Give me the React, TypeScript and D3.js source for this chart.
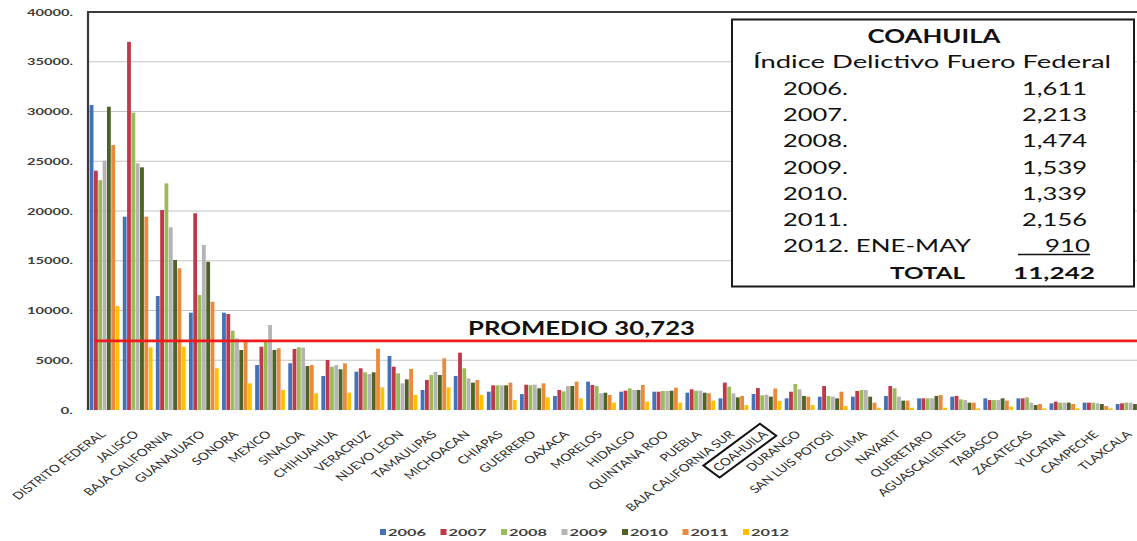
import React, { useEffect, useRef } from 'react';
import * as d3 from 'd3';

// states, left to right
const states = [
  'DISTRITO FEDERAL', 'JALISCO', 'BAJA CALIFORNIA', 'GUANAJUATO', 'SONORA', 'MEXICO',
  'SINALOA', 'CHIHUAHUA', 'VERACRUZ', 'NUEVO LEON', 'TAMAULIPAS', 'MICHOACAN',
  'CHIAPAS', 'GUERRERO', 'OAXACA', 'MORELOS', 'HIDALGO', 'QUINTANA ROO', 'PUEBLA',
  'BAJA CALIFORNIA SUR', 'COAHUILA', 'DURANGO', 'SAN LUIS POTOSI', 'COLIMA', 'NAYARIT',
  'QUERETARO', 'AGUASCALIENTES', 'TABASCO', 'ZACATECAS', 'YUCATAN', 'CAMPECHE', 'TLAXCALA'
];
const highlighted = 'COAHUILA';

const years = ['2006', '2007', '2008', '2009', '2010', '2011', '2012'];

const v2006 = [30650, 19430, 11460, 9780, 9780, 4520, 4700, 3420, 3850, 5430, 2010, 3420, 1840, 1600, 1410, 2850, 1840, 1840, 1740, 1170, 1611, 1170, 1340, 1340, 1410, 1170, 1340, 1170, 1170, 670, 740, 600];
const v2007 = [24050, 37000, 20100, 19770, 9650, 6360, 6130, 5030, 4190, 4350, 3020, 5760, 2480, 2540, 2010, 2510, 1940, 1840, 2080, 2750, 2213, 1840, 2410, 1910, 2410, 1170, 1410, 1000, 1170, 840, 740, 670];
const v2008 = [23100, 29880, 22780, 11560, 7970, 7000, 6300, 4350, 3790, 3690, 3520, 4190, 2480, 2500, 1880, 2410, 2180, 1910, 1940, 2350, 1474, 2610, 1410, 2010, 2180, 1170, 1070, 1000, 1270, 740, 740, 740];
const v2009 = [25050, 24790, 18360, 16580, 7200, 8540, 6270, 4520, 3620, 2680, 3820, 3180, 2480, 2540, 2410, 1680, 2010, 1910, 1940, 1680, 1539, 2080, 1340, 2010, 1340, 1170, 1000, 1000, 740, 740, 670, 740];
const v2010 = [30480, 24390, 15080, 14900, 6030, 6030, 4420, 4090, 3790, 3080, 3520, 2750, 2480, 2180, 2410, 1740, 2010, 1940, 1740, 1270, 1339, 1410, 1170, 1340, 940, 1410, 740, 1170, 500, 740, 600, 600];
const v2011 = [26630, 19430, 14240, 10880, 6860, 6200, 4520, 4690, 6160, 4120, 5190, 3020, 2750, 2680, 2850, 1510, 2510, 2240, 1680, 1410, 2156, 1340, 1840, 740, 940, 1510, 740, 940, 600, 600, 400, 600];
const v2012 = [10450, 6300, 6360, 4190, 2680, 2010, 1680, 1740, 2280, 1510, 2280, 1510, 1000, 1270, 1170, 740, 840, 740, 940, 500, 910, 500, 400, 230, 230, 230, 170, 340, 170, 170, 170, 200];
const series = [v2006, v2007, v2008, v2009, v2010, v2011, v2012];

const colors = ['#4472b8', '#c0394b', '#9bbb59', '#b4b4b4', '#4f6228', '#ec8a3c', '#ffc000'];

const yTicks = [0, 5000, 10000, 15000, 20000, 25000, 30000, 35000, 40000];

const promedio = 6950;
const promedioLabel = 'PROMEDIO 30,723';

const boxTitle = 'COAHUILA';
const boxSubtitle = 'Índice Delictivo Fuero Federal';
const boxYears = ['2006.', '2007.', '2008.', '2009.', '2010.', '2011.', '2012. ENE-MAY'];
const boxValues = ['1,611', '2,213', '1,474', '1,539', '1,339', '2,156', '910'];
const boxTotalLabel = 'TOTAL';
const boxTotal = '11,242';

const W = 1137;
const H = 541;
const FONT = 'Lato, "Open Sans", sans-serif';
const STRETCH = 1.35; // the picture is widened horizontally

const App: React.FC = () => {
  const svgRef = useRef<SVGSVGElement>(null);

  useEffect(() => {
    if (!svgRef.current) return;
    const svg = d3.select(svgRef.current);
    svg.selectAll('*').remove();

    const left = 88, top = 12, bottom = 410;
    const right = left + states.length * 33.1;

    const x0 = d3.scaleBand<string>().domain(states).range([left, right])
      .paddingInner(0.1).paddingOuter(0.05);
    const x1 = d3.scaleBand<string>().domain(years).range([0, x0.bandwidth()])
      .paddingInner(0.12);
    const y = d3.scaleLinear().domain([0, 40000]).range([bottom, top]);

    svg.append('rect').attr('width', W).attr('height', H).attr('fill', '#fff');

    // gridlines
    svg.append('g').selectAll('line')
      .data(yTicks.filter(t => t > 0 && t < 40000))
      .enter().append('line')
      .attr('x1', left).attr('x2', W)
      .attr('y1', d => y(d)).attr('y2', d => y(d))
      .attr('stroke', '#c4c4c4').attr('stroke-width', 1.2);

    // bars
    const groups = svg.append('g').selectAll('g')
      .data(states).enter().append('g')
      .attr('transform', d => `translate(${x0(d)},0)`);
    groups.selectAll('rect')
      .data((_, i) => series.map((s, k) => ({ year: years[k], value: s[i], k })))
      .enter().append('rect')
      .attr('x', d => x1(d.year) as number)
      .attr('width', x1.bandwidth())
      .attr('y', d => y(d.value))
      .attr('height', d => bottom - y(d.value))
      .attr('fill', d => colors[d.k]);

    // frame
    svg.append('line').attr('x1', left).attr('x2', W).attr('y1', top).attr('y2', top)
      .attr('stroke', '#3a3a3a').attr('stroke-width', 2.2);
    svg.append('line').attr('x1', left).attr('x2', left).attr('y1', top - 1).attr('y2', bottom)
      .attr('stroke', '#3a3a3a').attr('stroke-width', 2.2);

    // y tick labels
    svg.append('g').selectAll('text')
      .data(yTicks).enter().append('text')
      .attr('x', 73).attr('y', d => y(d))
      .attr('dy', '0.35em')
      .attr('text-anchor', 'end')
      .attr('font-family', FONT).attr('font-weight', 'bold').attr('font-size', 10)
      .attr('fill', '#3c3c3c')
      .attr('textLength', d => String(d).length * 8.4 + 4)
      .attr('lengthAdjust', 'spacingAndGlyphs')
      .text(d => `${d}.`);

    // average line
    svg.append('line')
      .attr('x1', 94).attr('x2', W)
      .attr('y1', y(promedio)).attr('y2', y(promedio))
      .attr('stroke', '#f01c1c').attr('stroke-width', 2.6);
    svg.append('text')
      .attr('x', 468).attr('y', 335)
      .attr('font-family', FONT).attr('font-weight', 'bold').attr('font-size', 18)
      .attr('textLength', 227).attr('lengthAdjust', 'spacingAndGlyphs')
      .attr('fill', '#111')
      .text(promedioLabel);

    // category labels, rotated
    const labels = svg.append('g').selectAll('g')
      .data(states).enter().append('g')
      .attr('transform', d => {
        const cx = (x0(d) as number) + x0.bandwidth() / 2;
        return `translate(${cx + 2},${435}) scale(${STRETCH},1) rotate(-45)`;
      });
    labels.append('text')
      .attr('text-anchor', 'end')
      .attr('font-family', FONT).attr('font-size', 10.3)
      .attr('fill', '#2a2a2a')
      .text(d => d);
    labels.filter(d => d === highlighted).each(function () {
      const g = d3.select(this);
      const w = (g.select('text').node() as SVGTextElement).getComputedTextLength();
      g.append('rect')
        .attr('x', -w - 3.5).attr('y', -12.5)
        .attr('width', w + 7).attr('height', 17)
        .attr('fill', 'none').attr('stroke', '#111').attr('stroke-width', 2)
        .attr('vector-effect', 'non-scaling-stroke');
    });

    // legend
    const legend = svg.append('g').selectAll('g')
      .data(years).enter().append('g')
      .attr('transform', (_, i) => `translate(${380 + i * 60.5},0)`);
    legend.append('rect')
      .attr('x', 0).attr('y', 529).attr('width', 6).attr('height', 6)
      .attr('fill', (_, i) => colors[i]);
    legend.append('text')
      .attr('x', 8).attr('y', 536)
      .attr('font-family', FONT).attr('font-weight', 'bold').attr('font-size', 10)
      .attr('fill', '#404040')
      .attr('textLength', 38).attr('lengthAdjust', 'spacingAndGlyphs')
      .text(d => d);

    // Coahuila box
    const box = svg.append('g');
    box.append('rect')
      .attr('x', 732).attr('y', 19.5).attr('width', 402).attr('height', 267)
      .attr('fill', '#fff').attr('stroke', '#1a1a1a').attr('stroke-width', 2);
    const txt = (x: number, yy: number, s: string, len: number, opts: { anchor?: string; bold?: boolean; size?: number } = {}) =>
      box.append('text')
        .attr('x', x).attr('y', yy)
        .attr('text-anchor', opts.anchor || 'start')
        .attr('font-family', FONT)
        .attr('font-weight', opts.bold ? 'bold' : 'normal')
        .attr('font-size', opts.size || 17.5)
        .attr('fill', '#111')
        .attr('textLength', len).attr('lengthAdjust', 'spacingAndGlyphs')
        .text(s);
    txt(934, 43, boxTitle, 133, { anchor: 'middle', bold: true, size: 18 });
    txt(753, 67.5, boxSubtitle, 358, { size: 18 });
    boxYears.forEach((s, i) => {
      const yy = 95 + i * 26.2;
      txt(783, yy, s, s.length > 6 ? 188 : 65);
      const v = boxValues[i];
      txt(v.length > 3 ? 1087 : 1090, yy, v, v.length > 3 ? 65 : 45, { anchor: 'end' });
    });
    box.append('line')
      .attr('x1', 1018).attr('x2', 1090).attr('y1', 254.5).attr('y2', 254.5)
      .attr('stroke', '#111').attr('stroke-width', 1.5);
    txt(890, 278.5, boxTotalLabel, 75, { bold: true });
    txt(1095, 278.5, boxTotal, 82, { anchor: 'end', bold: true });
  }, []);

  return (
    <div style={{ position: 'absolute', left: 0, top: 0 }}>
      <svg ref={svgRef} width={W} height={H} style={{ display: 'block' }}></svg>
    </div>
  );
};

export default App;
